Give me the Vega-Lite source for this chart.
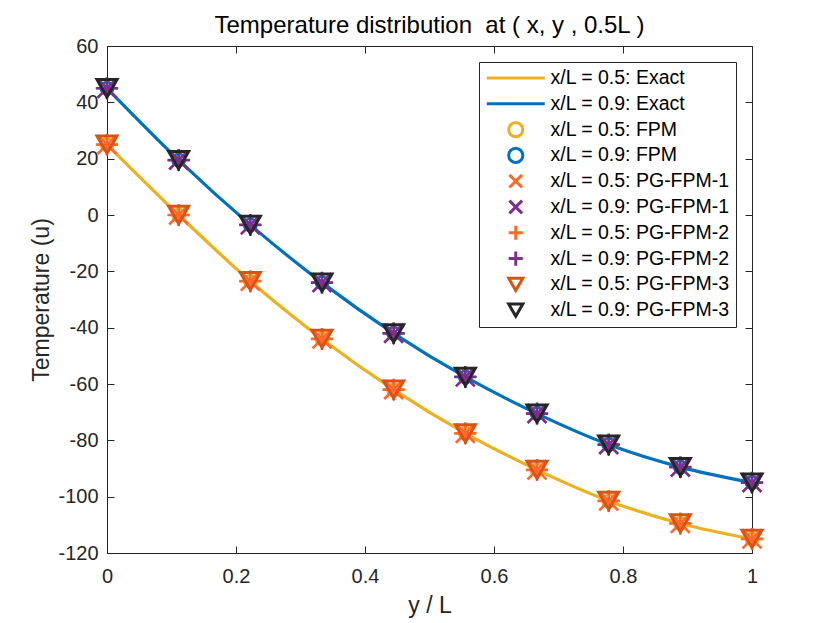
{
  "$schema": "https://vega.github.io/schema/vega-lite/v6.json",
  "description": "Temperature distribution at (x, y, 0.5L): exact solution and FPM / PG-FPM results for x/L = 0.5 and 0.9.",
  "autosize": {"type": "none"},
  "width": 645,
  "height": 507,
  "padding": {"left": 107, "top": 46, "right": 78, "bottom": 70},
  "background": "white",
  "title": {
    "text": "Temperature distribution\u00a0 at ( x, y , 0.5L )",
    "fontSize": 24,
    "fontWeight": "normal",
    "color": "#000000",
    "anchor": "middle",
    "offset": -2
  },
  "data": {
    "values": [
      {"xL": "0.5", "yL": 0, "Exact": 25, "FPM": 25, "PG-FPM-1": 25, "PG-FPM-2": 25, "PG-FPM-3": 25},
      {"xL": "0.5", "yL": 0.1111, "Exact": 0, "FPM": 0, "PG-FPM-1": 0, "PG-FPM-2": 0, "PG-FPM-3": 0},
      {"xL": "0.5", "yL": 0.2222, "Exact": -23.5, "FPM": -23.5, "PG-FPM-1": -23.5, "PG-FPM-2": -23.5, "PG-FPM-3": -23.5},
      {"xL": "0.5", "yL": 0.3333, "Exact": -44, "FPM": -44, "PG-FPM-1": -44, "PG-FPM-2": -44, "PG-FPM-3": -44},
      {"xL": "0.5", "yL": 0.4444, "Exact": -62, "FPM": -62, "PG-FPM-1": -62, "PG-FPM-2": -62, "PG-FPM-3": -62},
      {"xL": "0.5", "yL": 0.5556, "Exact": -77.5, "FPM": -77.5, "PG-FPM-1": -77.5, "PG-FPM-2": -77.5, "PG-FPM-3": -77.5},
      {"xL": "0.5", "yL": 0.6667, "Exact": -90.5, "FPM": -90.5, "PG-FPM-1": -90.5, "PG-FPM-2": -90.5, "PG-FPM-3": -90.5},
      {"xL": "0.5", "yL": 0.7778, "Exact": -101.5, "FPM": -101.5, "PG-FPM-1": -101.5, "PG-FPM-2": -101.5, "PG-FPM-3": -101.5},
      {"xL": "0.5", "yL": 0.8889, "Exact": -109.5, "FPM": -109.5, "PG-FPM-1": -109.5, "PG-FPM-2": -109.5, "PG-FPM-3": -109.5},
      {"xL": "0.5", "yL": 1, "Exact": -115, "FPM": -115, "PG-FPM-1": -115, "PG-FPM-2": -115, "PG-FPM-3": -115},
      {"xL": "0.9", "yL": 0, "Exact": 45, "FPM": 45, "PG-FPM-1": 45, "PG-FPM-2": 45, "PG-FPM-3": 45},
      {"xL": "0.9", "yL": 0.1111, "Exact": 19.5, "FPM": 19.5, "PG-FPM-1": 19.5, "PG-FPM-2": 19.5, "PG-FPM-3": 19.5},
      {"xL": "0.9", "yL": 0.2222, "Exact": -3.5, "FPM": -3.5, "PG-FPM-1": -3.5, "PG-FPM-2": -3.5, "PG-FPM-3": -3.5},
      {"xL": "0.9", "yL": 0.3333, "Exact": -24, "FPM": -24, "PG-FPM-1": -24, "PG-FPM-2": -24, "PG-FPM-3": -24},
      {"xL": "0.9", "yL": 0.4444, "Exact": -42, "FPM": -42, "PG-FPM-1": -42, "PG-FPM-2": -42, "PG-FPM-3": -42},
      {"xL": "0.9", "yL": 0.5556, "Exact": -57.5, "FPM": -57.5, "PG-FPM-1": -57.5, "PG-FPM-2": -57.5, "PG-FPM-3": -57.5},
      {"xL": "0.9", "yL": 0.6667, "Exact": -70.5, "FPM": -70.5, "PG-FPM-1": -70.5, "PG-FPM-2": -70.5, "PG-FPM-3": -70.5},
      {"xL": "0.9", "yL": 0.7778, "Exact": -81.5, "FPM": -81.5, "PG-FPM-1": -81.5, "PG-FPM-2": -81.5, "PG-FPM-3": -81.5},
      {"xL": "0.9", "yL": 0.8889, "Exact": -89.5, "FPM": -89.5, "PG-FPM-1": -89.5, "PG-FPM-2": -89.5, "PG-FPM-3": -89.5},
      {"xL": "0.9", "yL": 1, "Exact": -95, "FPM": -95, "PG-FPM-1": -95, "PG-FPM-2": -95, "PG-FPM-3": -95}
    ]
  },
  "transform": [
    {"fold": ["Exact", "FPM", "PG-FPM-1", "PG-FPM-2", "PG-FPM-3"], "as": ["method", "u"]},
    {"calculate": "'x/L = ' + datum.xL + ': ' + datum.method", "as": "series"}
  ],
  "encoding": {
    "x": {
      "field": "yL",
      "type": "quantitative",
      "title": "y / L",
      "scale": {"domain": [0, 1], "nice": false},
      "axis": null
    },
    "y": {
      "field": "u",
      "type": "quantitative",
      "title": "Temperature (u)",
      "scale": {"domain": [-120, 60], "nice": false},
      "axis": null
    },
    "stroke": {
      "field": "series",
      "type": "nominal",
      "title": null,
      "scale": {
        "domain": [
          "x/L = 0.5: Exact", "x/L = 0.9: Exact",
          "x/L = 0.5: FPM", "x/L = 0.9: FPM",
          "x/L = 0.5: PG-FPM-1", "x/L = 0.9: PG-FPM-1",
          "x/L = 0.5: PG-FPM-2", "x/L = 0.9: PG-FPM-2",
          "x/L = 0.5: PG-FPM-3", "x/L = 0.9: PG-FPM-3"
        ],
        "range": [
          "#EDB120", "#0072BD",
          "#EDB120", "#0072BD",
          "#FF6929", "#7E2F8E",
          "#FF6929", "#7E2F8E",
          "#D95319", "#262626"
        ]
      },
      "legend": {
        "orient": "top-right",
        "offset": 16,
        "padding": 6,
        "strokeColor": "#262626",
        "fillColor": "white",
        "labelFontSize": 19.5,
        "labelColor": "#000000",
        "labelLimit": 400,
        "symbolSize": 200,
        "symbolStrokeWidth": 3,
        "symbolOffset": 21,
        "labelOffset": 25,
        "clipHeight": 20,
        "rowPadding": 5.8,
        "cornerRadius": 0,
        "encode": {
          "symbols": {
            "update": {
              "fill": {"value": "transparent"},
              "strokeWidth": {"value": 3},
              "size": {"value": 200},
              "opacity": {"value": 1}
            }
          }
        }
      }
    },
    "shape": {
      "field": "series",
      "type": "nominal",
      "title": null,
      "scale": {
        "domain": [
          "x/L = 0.5: Exact", "x/L = 0.9: Exact",
          "x/L = 0.5: FPM", "x/L = 0.9: FPM",
          "x/L = 0.5: PG-FPM-1", "x/L = 0.9: PG-FPM-1",
          "x/L = 0.5: PG-FPM-2", "x/L = 0.9: PG-FPM-2",
          "x/L = 0.5: PG-FPM-3", "x/L = 0.9: PG-FPM-3"
        ],
        "range": [
          "M-4.1,0L4.1,0", "M-4.1,0L4.1,0",
          "circle", "circle",
          "M-0.9,-0.9L0.9,0.9M-0.9,0.9L0.9,-0.9", "M-0.9,-0.9L0.9,0.9M-0.9,0.9L0.9,-0.9",
          "M-1,0L1,0M0,-1L0,1", "M-1,0L1,0M0,-1L0,1",
          "triangle-down", "triangle-down"
        ]
      }
    }
  },
  "resolve": {"axis": {"x": "independent", "y": "independent"}},
  "layer": [
    {
      "transform": [{"filter": "datum.method === 'Exact'"}],
      "mark": {"type": "line", "interpolate": "monotone", "strokeWidth": 3.2},
      "encoding": {
        "x": {"field": "yL", "type": "quantitative", "title": "y / L",
          "axis": {"orient": "bottom", "values": [0, 0.2, 0.4, 0.6, 0.8, 1], "labelExpr": "'' + datum.value", "labelFlush": false, "labelPadding": 20, "titlePadding": 8}},
        "y": {"field": "u", "type": "quantitative", "title": "Temperature (u)",
          "axis": {"orient": "left", "values": [-120, -100, -80, -60, -40, -20, 0, 20, 40, 60], "labelExpr": "'' + datum.value", "labelFlush": false, "labelPadding": 16, "titlePadding": 4}},
        "shape": {"field": "series", "type": "nominal", "title": null}
      }
    },
    {
      "transform": [{"filter": "datum.method === 'FPM'"}],
      "mark": {"type": "point", "filled": false, "fill": "transparent", "size": 150, "strokeWidth": 2.7, "opacity": 1}
    },
    {
      "transform": [{"filter": "datum.method === 'PG-FPM-1'"}],
      "mark": {"type": "point", "filled": false, "fill": "transparent", "size": 440, "strokeWidth": 2.7, "opacity": 1}
    },
    {
      "transform": [{"filter": "datum.method === 'PG-FPM-2'"}],
      "mark": {"type": "point", "filled": false, "fill": "transparent", "size": 480, "strokeWidth": 2.7, "opacity": 1}
    },
    {
      "transform": [{"filter": "datum.method === 'PG-FPM-3'"}],
      "mark": {"type": "point", "filled": false, "fill": "transparent", "size": 400, "strokeWidth": 3, "opacity": 1},
      "encoding": {
        "x": {"field": "yL", "type": "quantitative",
          "axis": {"orient": "top", "values": [0, 0.2, 0.4, 0.6, 0.8, 1], "labels": false, "title": null, "domain": true, "ticks": true}},
        "y": {"field": "u", "type": "quantitative",
          "axis": {"orient": "right", "values": [-120, -100, -80, -60, -40, -20, 0, 20, 40, 60], "labels": false, "title": null, "domain": true, "ticks": true}}
      }
    }
  ],
  "config": {
    "font": "Liberation Sans",
    "view": {"stroke": "#262626", "strokeWidth": 1},
    "axis": {
      "grid": false,
      "domainColor": "#262626",
      "domainWidth": 1,
      "tickColor": "#262626",
      "tickWidth": 1,
      "tickSize": -7,
      "labelColor": "#262626",
      "labelFontSize": 20,
      "titleColor": "#262626",
      "titleFontSize": 23,
      "titleFontWeight": "normal"
    }
  }
}
